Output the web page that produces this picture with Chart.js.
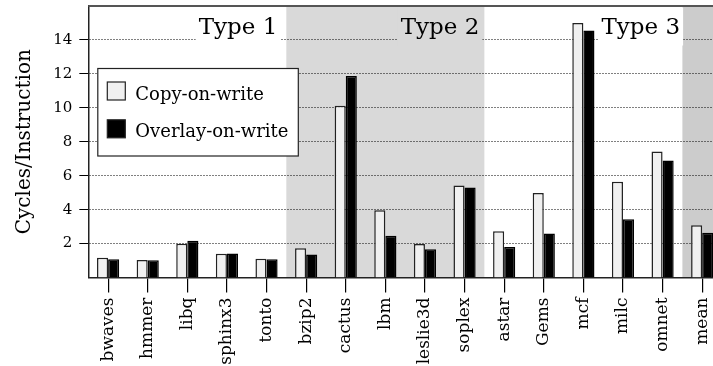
<!DOCTYPE html>
<html>
<head>
<meta charset="utf-8">
<script src="https://cdn.jsdelivr.net/npm/chart.js@4"></script>
<style>
  html, body { margin: 0; padding: 0; background: #fff; overflow: hidden; }
  #wrap { width: 713px; height: 366px; overflow: hidden; }
  canvas { display: block; }
</style>
</head>
<body>
<div id="wrap"><canvas id="c" width="735" height="366"></canvas></div>
<script>
const categories = ['bwaves','hmmer','libq','sphinx3','tonto','bzip2','cactus','lbm','leslie3d','soplex','astar','Gems','mcf','milc','omnet','mean'];
const copyOnWrite    = [1.16, 1.03, 1.99, 1.40, 1.10, 1.72, 10.12, 3.97, 1.97, 5.42, 2.72, 4.98, 15.00, 5.65, 7.43, 3.08];
const overlayOnWrite = [1.07, 1.02, 2.17, 1.41, 1.07, 1.36, 11.88, 2.46, 1.66, 5.30, 1.80, 2.60, 14.56, 3.43, 6.90, 2.63];
const yTicks = [2, 4, 6, 8, 10, 12, 14];
const seriesNames = ['Copy-on-write', 'Overlay-on-write'];
const groupLabels = ['Type 1', 'Type 2', 'Type 3'];
const groupSizes = [5, 5, 5];

const FONT = '"DejaVu Serif", serif';
Chart.defaults.font.family = FONT;
Chart.defaults.color = '#000';

const decorPlugin = {
  id: 'decor',
  beforeDraw(chart) {
    const {ctx, chartArea: ca, scales: {x}} = chart;
    const half = (x.getPixelForValue(1) - x.getPixelForValue(0)) / 2;
    ctx.save();
    let start = 0;
    groupSizes.forEach((n, g) => {
      if (g === 1) {
        const x0 = x.getPixelForValue(start) - half;
        const x1 = x.getPixelForValue(start + n - 1) + half;
        ctx.fillStyle = '#d9d9d9';
        ctx.fillRect(x0, ca.top, x1 - x0, ca.bottom - ca.top);
      }
      start += n;
    });
    const m0 = x.getPixelForValue(categories.length - 1) - half;
    ctx.fillStyle = '#cccccc';
    ctx.fillRect(m0, ca.top, ca.right - m0, ca.bottom - ca.top);
    ctx.restore();
  },
  beforeDatasetsDraw(chart) {
    const {ctx, chartArea: ca, scales: {x}} = chart;
    const centers = [3.28, 8.38, 13.45];
    ctx.save();
    ctx.font = '23px ' + FONT;
    ctx.textBaseline = 'alphabetic';
    ctx.textAlign = 'center';
    groupLabels.forEach((lab, g) => {
      const cx = x.getPixelForValue(centers[g]);
      const w = ctx.measureText(lab).width;
      ctx.fillStyle = g === 1 ? '#d9d9d9' : '#ffffff';
      ctx.fillRect(cx - w / 2 - 3, ca.top + 1.5, w + 6, 38);
      ctx.fillStyle = '#000';
      ctx.fillText(lab, cx, ca.top + 28);
    });
    ctx.restore();
  },
  afterDraw(chart) {
    const {ctx, chartArea: ca} = chart;
    ctx.save();
    ctx.strokeStyle = '#555';
    ctx.lineWidth = 2;
    ctx.beginPath();
    ctx.moveTo(ca.left, ca.top);
    ctx.lineTo(chart.width, ca.top);
    ctx.stroke();
    const lx = ca.left + 9.5, ly = 68.5, lw = 200.5, lh = 87.5;
    ctx.fillStyle = '#fff';
    ctx.fillRect(lx, ly, lw, lh);
    ctx.strokeStyle = '#222';
    ctx.lineWidth = 1.2;
    ctx.strokeRect(lx, ly, lw, lh);
    ctx.font = '18px ' + FONT;
    ctx.textBaseline = 'alphabetic';
    ctx.textAlign = 'left';
    chart.data.datasets.forEach((ds, i) => {
      const sy = ly + 13.5 + i * 37.8;
      ctx.fillStyle = ds.backgroundColor;
      ctx.fillRect(lx + 9.5, sy, 18, 18);
      ctx.strokeStyle = '#222';
      ctx.lineWidth = 1.2;
      ctx.strokeRect(lx + 9.5, sy, 18, 18);
      ctx.fillStyle = '#000';
      ctx.fillText(ds.label, lx + 37.5, sy + 17.5);
    });
    ctx.restore();
  }
};

new Chart(document.getElementById('c'), {
  type: 'bar',
  data: {
    labels: categories,
    datasets: [
      { label: seriesNames[0], data: copyOnWrite, backgroundColor: '#f0f0f0', borderColor: '#222', borderWidth: 1.5 },
      { label: seriesNames[1], data: overlayOnWrite, backgroundColor: '#000000', borderColor: '#000', borderWidth: 1.5 }
    ]
  },
  options: {
    responsive: false,
    animation: false,
    devicePixelRatio: 1,
    layout: { padding: { top: 6, right: 13, left: 0, bottom: 0 } },
    datasets: { bar: { categoryPercentage: 0.56, barPercentage: 1.0 } },
    plugins: { legend: { display: false }, tooltip: { enabled: false } },
    scales: {
      x: {
        offset: true,
        grid: { offset: false, drawOnChartArea: false, tickLength: 15, color: '#000', lineWidth: 1.2 },
        border: { display: true, color: '#222', width: 1.5 },
        ticks: { autoSkip: false, minRotation: 90, maxRotation: 90, padding: 5, font: { size: 17, family: FONT }, color: '#000' },
        afterFit(s) { s.height = 88.5; s.paddingLeft = 0; s.paddingRight = 0; }
      },
      y: {
        min: 0, max: 16,
        afterBuildTicks(s) { s.ticks = yTicks.map(v => ({ value: v })); },
        grid: { color: '#000', lineWidth: 1, tickLength: 9, tickColor: '#000', tickBorderDash: [] },
        border: { display: true, color: '#222', width: 1.5, dash: [1, 2] },
        ticks: { padding: 7, font: { size: 15, family: FONT }, color: '#000' },
        title: { display: true, text: 'Cycles/Instruction', font: { size: 20, family: FONT }, color: '#000', padding: { top: 13, bottom: 0 } },
        afterFit(s) { s.width = 88.3; s.paddingTop = 0; s.paddingBottom = 0; }
      }
    }
  },
  plugins: [decorPlugin]
});
</script>
</body>
</html>
